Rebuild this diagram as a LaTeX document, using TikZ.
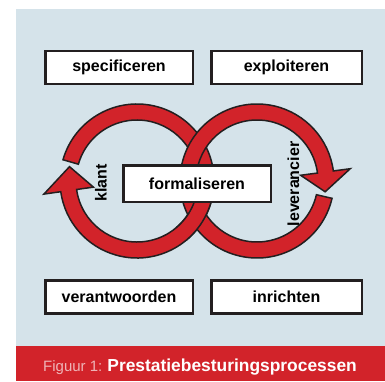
\documentclass[tikz,border=0pt]{standalone}
\usepackage{fontspec}
\setmainfont{Liberation Sans}
\definecolor{panelblue}{HTML}{D5E3EA}
\definecolor{loopred}{HTML}{D2232A}
\definecolor{inkdark}{HTML}{231F20}
\definecolor{capfaint}{HTML}{EEB4B7}
\begin{document}
\begin{tikzpicture}[x=1pt,y=1pt,
  box/.style={draw=inkdark,line width=2.5pt,fill=white,minimum width=147.5,minimum height=33,inner sep=0pt,font=\bfseries\fontsize{16}{18}\selectfont},
  sidelabel/.style={rotate=90,inner sep=0pt,font=\bfseries\fontsize{16}{18}\selectfont},
  loop/.style={fill=loopred,draw=inkdark,line width=1.5pt}]
\useasboundingbox (0,0) rectangle (385,381);
\fill[panelblue] (16,35) rectangle (385,372);
\fill[loopred] (16,0) rectangle (385,35);

\coordinate (lc) at (137,200);
\coordinate (rc) at (257,200);

% left loop, head on the left pointing up
\filldraw[loop] ([shift={(lc)}]164:77) arc[start angle=164,end angle=-172,radius=77]
  -- ([shift={(lc)}]-172:94) -- ([shift={(lc)}]168:69) -- ([shift={(lc)}]-172:44)
  -- ([shift={(lc)}]-172:61) arc[start angle=-172,end angle=164,radius=61] -- cycle;

% right loop, head on the right pointing down
\filldraw[loop] ([shift={(rc)}]-13:77) arc[start angle=-13,end angle=-352.5,radius=77]
  -- ([shift={(rc)}]-352.5:94) -- ([shift={(rc)}]-9:69) -- ([shift={(rc)}]-352.5:44)
  -- ([shift={(rc)}]-352.5:61) arc[start angle=-352.5,end angle=-13,radius=61] -- cycle;

% left loop back on top at the lower crossing
\fill[loopred] ([shift={(lc)}]-2:77) arc[start angle=-2,end angle=-50,radius=77]
  -- ([shift={(lc)}]-50:61) arc[start angle=-50,end angle=-2,radius=61] -- cycle;
\draw[inkdark,line width=1.5pt] ([shift={(lc)}]-2:77) arc[start angle=-2,end angle=-50,radius=77];
\draw[inkdark,line width=1.5pt] ([shift={(lc)}]-2:61) arc[start angle=-2,end angle=-50,radius=61];

\node[box] (spec) at (119,313.5) {specificeren};
\node[box,minimum width=150.5] (expl) at (286.5,313.5) {exploiteren};
\node[box,minimum height=36.5] (form) at (197,197.5) {formaliseren};
\node[box] (verant) at (119,84) {verantwoorden};
\node[box,minimum width=150.5] (inr) at (286.5,84) {inrichten};

\node[sidelabel] (klant) at (101,198) {klant};
\node[sidelabel] (lev) at (293.5,197) {leverancier};

\node[anchor=base west,inner sep=0pt,text=white] (caption) at (43,10)
  {{\color{capfaint}\fontsize{15}{17}\selectfont Figuur 1:}\hspace{5pt}{\bfseries\fontsize{17.4}{19}\selectfont Prestatiebesturingsprocessen}};
\end{tikzpicture}
\end{document}
